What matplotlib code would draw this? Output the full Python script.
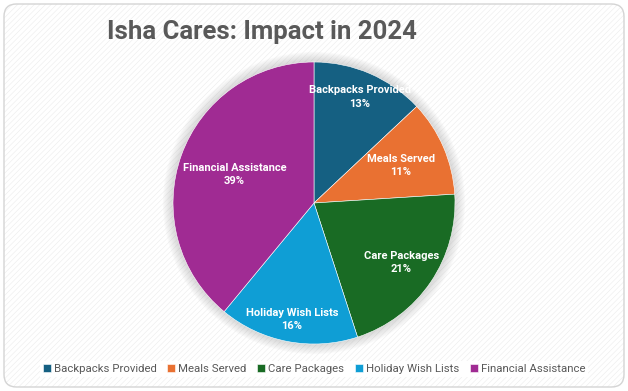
import numpy as np
import matplotlib
matplotlib.use("Agg")
import matplotlib.pyplot as plt
from matplotlib.patches import FancyBboxPatch, Circle

# Data
categories = ["Backpacks Provided", "Meals Served", "Care Packages",
              "Holiday Wish Lists", "Financial Assistance"]
shares = [13, 11, 21, 16, 39]
colors = ["#156082", "#E97132", "#196B24", "#0F9ED5", "#A02B93"]
label_dist = [0.82, 0.67, 0.75, 0.84, 0.60]

W, H = 628, 391
fig = plt.figure(figsize=(W / 100, H / 100), dpi=100)
fig.patch.set_facecolor("white")

# Card background with fine diagonal hatch and rounded border
plt.rcParams["hatch.linewidth"] = 0.4
bg = FancyBboxPatch((4 / W, 4 / H), (W - 8) / W, (H - 8) / H,
                    boxstyle="round,pad=0,rounding_size=0.02",
                    transform=fig.transFigure, facecolor="white",
                    edgecolor="#ececec", hatch="//////", linewidth=0,
                    mutation_aspect=W / H, zorder=-2)
fig.patches.append(bg)
border = FancyBboxPatch((4 / W, 4 / H), (W - 8) / W, (H - 8) / H,
                        boxstyle="round,pad=0,rounding_size=0.02",
                        transform=fig.transFigure, facecolor="none",
                        edgecolor="#d4d4d4", linewidth=1.0,
                        mutation_aspect=W / H, zorder=-1)
fig.patches.append(border)

# Pie axes: centre (314, 203) px, radius 141 px
cx, cy, r_px = 314, 203, 141
half = 160
ax = fig.add_axes([(cx - half) / W, (H - cy - half) / H, 2 * half / W, 2 * half / H])
ax.set_aspect("equal")
ax.axis("off")
ax.patch.set_alpha(0)

# soft glow around the pie
for k in range(12, 0, -1):
    ax.add_patch(Circle((0, 0), 1 + k * 0.006, facecolor="#7a7a7a",
                        edgecolor="none", alpha=0.025, zorder=0))

wedges, _ = ax.pie(shares, colors=colors, startangle=90, counterclock=False,
                   radius=1, wedgeprops=dict(edgecolor="white", linewidth=0.4))
ax.set_xlim(-half / r_px, half / r_px)
ax.set_ylim(-half / r_px, half / r_px)

for w, name, val, d in zip(wedges, categories, shares, label_dist):
    mid = np.deg2rad((w.theta1 + w.theta2) / 2)
    ax.text(d * np.cos(mid), d * np.sin(mid), f"{name}\n{val}%",
            ha="center", va="center", color="white", fontsize=8,
            fontweight="bold", family="Roboto", linespacing=1.45, zorder=5)

# Title
fig.text(262 / W, 1 - 32 / H, "Isha Cares: Impact in 2024", ha="center",
         va="center", fontsize=18.5, fontweight="bold", color="#595959",
         family="Roboto")

# Legend
leg = fig.legend(wedges, categories, loc="center", bbox_to_anchor=(314 / W, 1 - 369 / H),
                 ncol=5, frameon=True, fancybox=False, borderpad=0.25,
                 handlelength=0.7, handleheight=0.7, borderaxespad=0,
                 handletextpad=0.3, columnspacing=0.9,
                 labelcolor="#595959", prop={"family": "Roboto", "size": 8.2})
leg.get_frame().set_facecolor("white")
leg.get_frame().set_edgecolor("none")
leg.get_frame().set_alpha(1)

fig.savefig("out.png", dpi=100, facecolor="white")
